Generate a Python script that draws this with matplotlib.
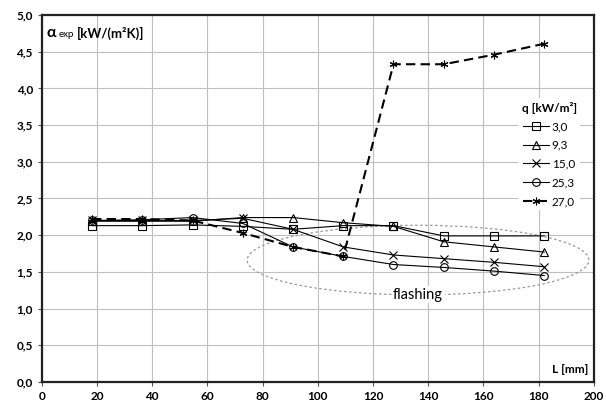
import matplotlib
matplotlib.use("Agg")
import matplotlib.pyplot as plt
from matplotlib.patches import Ellipse
from matplotlib.ticker import FuncFormatter

plt.rcParams["font.family"] = ["Lato", "DejaVu Sans"]

# longueur L [mm]
L = [18.2, 36.4, 54.6, 72.8, 91.0, 109.2, 127.4, 145.6, 163.8, 182.0]

# alpha exp [kW/(m2K)] pour chaque flux q
q_3_0 = [2.13, 2.13, 2.14, 2.12, 2.08, 2.13, 2.13, 1.99, 1.99, 1.99]
q_9_3 = [2.19, 2.19, 2.19, 2.24, 2.24, 2.17, 2.12, 1.91, 1.84, 1.77]
q_15_0 = [2.20, 2.20, 2.20, 2.23, 2.08, 1.84, 1.73, 1.68, 1.63, 1.57]
q_25_3 = [2.20, 2.21, 2.24, 2.16, 1.84, 1.71, 1.60, 1.56, 1.51, 1.45]
q_27_0 = [2.22, 2.22, 2.20, 2.03, 1.84, 1.71, 4.33, 4.33, 4.46, 4.61]

etiquettes = ["3,0", "9,3", "15,0", "25,3", "27,0"]

fig = plt.figure(figsize=(6.06, 4.08), dpi=100)
ax = fig.add_axes([0.069, 0.064, 0.911, 0.899])

ms = 5.5
ax.plot(L, q_3_0, color="black", lw=0.8, marker="s", ms=ms, mfc="none", mew=0.8, label=etiquettes[0])
ax.plot(L, q_9_3, color="black", lw=0.8, marker="^", ms=ms, mfc="none", mew=0.8, label=etiquettes[1])
ax.plot(L, q_15_0, color="black", lw=0.8, marker="x", ms=ms, mew=0.8, label=etiquettes[2])
ax.plot(L, q_25_3, color="black", lw=0.8, marker="o", ms=ms, mfc="none", mew=0.8, label=etiquettes[3])
ax.plot(L, q_27_0, color="black", lw=1.5, ls=(0, (4.5, 2.5)), marker=(6, 2, 0), ms=ms, mew=0.8, label=etiquettes[4])

# zone de flashing
ell = Ellipse((136.3, 1.66), 123.8, 0.95, fill=False, edgecolor="#999999", lw=0.9, ls=(0, (2, 2)))
ax.add_patch(ell)
ax.text(136.3, 1.19, "flashing", ha="center", va="center", fontsize=10.5,
        bbox=dict(facecolor="white", edgecolor="none", pad=1))

ax.set_xlim(0, 200)
ax.set_ylim(0, 5)
ax.set_xticks(range(0, 201, 20))
ax.set_yticks([i * 0.5 for i in range(11)])
ax.yaxis.set_major_formatter(FuncFormatter(lambda v, p: f"{v:.1f}".replace(".", ",")))
ax.grid(True, color="#bfbfbf", lw=0.8)
ax.set_axisbelow(True)
ax.tick_params(labelsize=8.5, length=3, width=0.8, color="#555555")
for lab in ax.get_xticklabels() + ax.get_yticklabels():
    lab.set_fontweight("bold")
for s in ax.spines.values():
    s.set_linewidth(1.6)
    s.set_color("#222222")

ax.text(1.8, 4.75, "α", fontsize=11.5, fontweight="bold", va="center")
ax.text(6.2, 4.73, "exp", fontsize=7, va="center")
ax.text(12.8, 4.75, "[kW/(m²K)]", fontsize=9.5, fontweight="bold", va="center")
ax.text(198, 0.17, "L [mm]", fontsize=8.5, fontweight="bold", ha="right", va="center")

leg = ax.legend(loc="upper left", bbox_to_anchor=(0.852, 0.79), title="q [kW/m²]",
                fontsize=8.5, frameon=True, fancybox=False, facecolor="white",
                edgecolor="none", framealpha=1, handlelength=2.2, handletextpad=0.2,
                labelspacing=0.65, borderpad=0.3)
leg.get_title().set_fontweight("bold")
leg.get_title().set_fontsize(8.5)

fig.savefig("out.png", dpi=100)
